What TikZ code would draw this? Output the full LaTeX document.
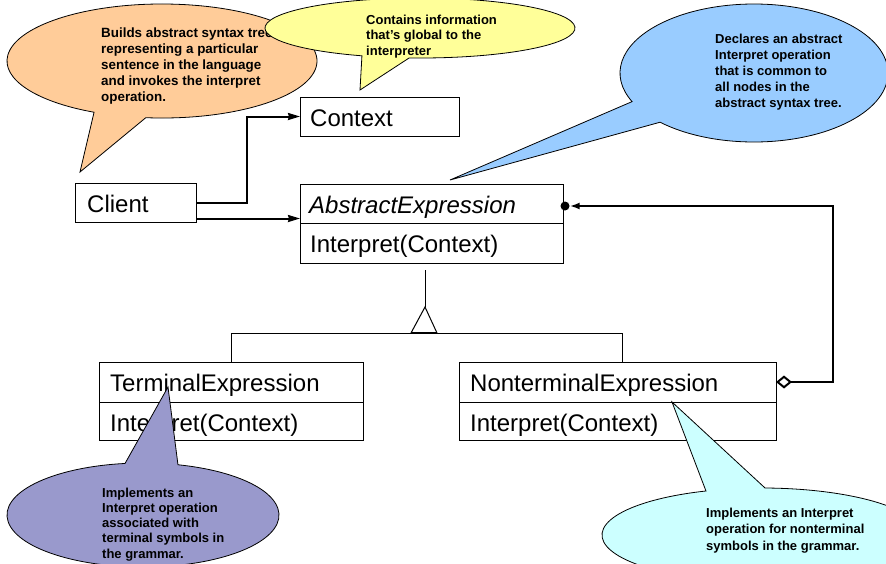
\documentclass[tikz,border=0pt]{standalone}
\usepackage{fontspec}
\setmainfont{Liberation Sans}
\usetikzlibrary{arrows.meta,calc}

\definecolor{noteorange}{HTML}{FFCC99}
\definecolor{noteyellow}{HTML}{FFFF99}
\definecolor{noteblue}{HTML}{99CCFF}
\definecolor{notepurple}{HTML}{9999CC}
\definecolor{notecyan}{HTML}{CCFFFF}

% multi-line note text whose baseline is that of its first line
\newcommand{\notelines}[1]{\begin{tabular}[t]{@{}l@{}}#1\end{tabular}}

\tikzset{
  classbox/.style={draw=black, line width=1pt, fill=white, inner sep=0pt, outer sep=0pt, anchor=north west},
  classtext/.style={anchor=base west, inner sep=0pt, font=\fontsize{24}{28}\selectfont},
  notetext/.style={anchor=base west, inner sep=0pt},
  noteshape/.style={draw=black, line width=0.8pt},
  link/.style={line width=2pt},
  inherit/.style={line width=1pt},
  navarrow/.style={-{Stealth[length=12pt,width=7pt,inset=1pt]}},
}

\begin{document}
\begin{tikzpicture}[x=1pt,y=-1pt]
\useasboundingbox (0,0) rectangle (886,563);
\fill[white] (0,0) rectangle (886,563);
\clip (0,0) rectangle (886,563);

% ---------- classes ----------
\node[classbox, minimum width=159pt, minimum height=39pt] (context) at (300,97) {};
\node[classbox, minimum width=121pt, minimum height=39pt] (client) at (75,183) {};
\node[classbox, minimum width=263pt, minimum height=39pt] (absT) at (300,184) {};
\node[classbox, minimum width=263pt, minimum height=40pt] (absO) at (300,223) {};
\node[classbox, minimum width=264pt, minimum height=40pt] (tmT) at (99,362) {};
\node[classbox, minimum width=264pt, minimum height=38pt] (tmO) at (99,402) {};
\node[classbox, minimum width=317pt, minimum height=40pt] (ntT) at (459,362) {};
\node[classbox, minimum width=317pt, minimum height=38pt] (ntO) at (459,402) {};

\node[classtext] (contextname) at (310,126) {Context};
\node[classtext] (clientname) at (87,212) {Client};
\node[classtext, font=\fontsize{24}{28}\selectfont\itshape] (absname) at (309,213) {AbstractExpression};
\node[classtext] (absop) at (310,252) {Interpret(Context)};
\node[classtext] (tmname) at (110,391) {TerminalExpression};
\node[classtext] (tmop) at (110,431) {Interpret(Context)};
\node[classtext] (ntname) at (470,391) {NonterminalExpression};
\node[classtext] (ntop) at (470,431) {Interpret(Context)};

% ---------- client associations ----------
\draw[link, navarrow] (client.east) -- ++(51,0) |- (context.west);
\draw[link, navarrow] ([yshift=-16pt]client.east) -- ([yshift=-16pt]client.east -| absT.west);

% ---------- inheritance ----------
\coordinate (apex) at (425,307);
\coordinate (baseL) at (411,333);
\coordinate (baseR) at (437,333);
\draw[inherit] ([xshift=-6.5pt,yshift=-7pt]absO.south) -- (apex);
\draw[inherit] (tmT.north) |- (baseL);
\draw[inherit] ([xshift=4.5pt]ntT.north) |- (baseR);
\draw[inherit, fill=white] (apex) -- (baseR) -- (baseL) -- cycle;
\draw[line width=1.6pt] (baseL) -- (baseR);

% ---------- aggregation ----------
\node[circle, fill=black, inner sep=0pt, minimum size=9pt] (dot) at (565,206) {};
\draw[link, {Diamond[open,length=16pt,width=13pt,line width=2pt]}-{Latex[length=10pt,width=7pt]}]
  (ntT.east) -- ++(57,0) |- (dot.east);

% ---------- notes ----------
\coordinate (oc) at (162,61);  \coordinate (otip) at (80,172);
\filldraw[noteshape, fill=noteorange] (otip) -- ($(oc)+(264:155pt and 57pt)$)
  arc[start angle=264, end angle=604, x radius=155pt, y radius=57pt] -- cycle;
\node[notetext, font=\fontsize{13.4}{16}\selectfont\bfseries] (onote) at (101,37)
  {\notelines{Builds abstract syntax tree\\representing a particular\\sentence in the language\\and invokes the interpret\\operation.}};

\coordinate (yc) at (420,28);  \coordinate (ytip) at (360,90);
\filldraw[noteshape, fill=noteyellow] (ytip) -- ($(yc)+(266:155pt and 30pt)$)
  arc[start angle=266, end angle=608, x radius=155pt, y radius=30pt] -- cycle;
\node[notetext, font=\fontsize{13}{15.5}\selectfont\bfseries] (ynote) at (366,24)
  {\notelines{Contains information\\that’s global to the\\interpreter}};

\coordinate (bc) at (754,73);  \coordinate (btip) at (450,180);
\filldraw[noteshape, fill=noteblue] (btip) -- ($(bc)+(225.5:134pt and 69pt)$)
  arc[start angle=225.5, end angle=564.5, x radius=134pt, y radius=69pt] -- cycle;
\node[notetext, font=\fontsize{13}{16}\selectfont\bfseries] (bnote) at (715,43)
  {\notelines{Declares an abstract\\Interpret operation\\that is common to\\all nodes in the\\abstract syntax tree.}};

\coordinate (pc) at (143,515);  \coordinate (ptip) at (168,387);
\filldraw[noteshape, fill=notepurple] (ptip) -- ($(pc)+(97.6:136pt and 52pt)$)
  arc[start angle=97.6, end angle=435.1, x radius=136pt, y radius=52pt] -- cycle;
\node[notetext, font=\fontsize{13}{15.3}\selectfont\bfseries] (pnote) at (102,497)
  {\notelines{Implements an\\Interpret operation\\associated with\\terminal symbols in\\the grammar.}};

\coordinate (cc) at (762,535);  \coordinate (ctip) at (672,402);
\filldraw[noteshape, fill=notecyan] (ctip) -- ($(cc)+(110.5:160pt and 47pt)$)
  arc[start angle=110.5, end angle=448.9, x radius=160pt, y radius=47pt] -- cycle;
\node[notetext, font=\fontsize{13}{16.5}\selectfont\bfseries] (cnote) at (706,517)
  {\notelines{Implements an Interpret\\operation for nonterminal\\symbols in the grammar.}};

\end{tikzpicture}
\end{document}
